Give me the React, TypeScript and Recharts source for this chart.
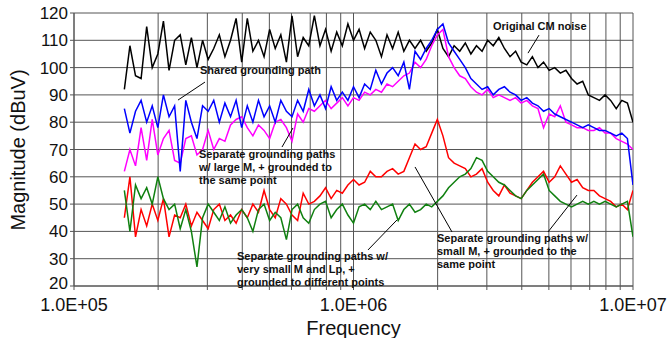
import React from 'react';
import { LineChart, Line, XAxis, YAxis, CartesianGrid, ReferenceLine } from 'recharts';

// frequency points (Hz), log spaced, 0.02 decade apart
const freq = [
  151400, 158500, 166000, 173800, 182000, 190500, 199500, 208900, 218800, 229100,
  239900, 251200, 263000, 275400, 288400, 302000, 316200, 331100, 346700, 363100,
  380200, 398100, 416900, 436500, 457100, 478600, 501200, 524800, 549500, 575400,
  602600, 631000, 660700, 691800, 724400, 758600, 794300, 831800, 871000, 912000,
  955000, 1000000, 1047000, 1096000, 1148000, 1202000, 1259000, 1318000, 1380000, 1445000,
  1514000, 1585000, 1660000, 1738000, 1820000, 1905000, 1995000, 2089000, 2188000, 2291000,
  2399000, 2512000, 2630000, 2754000, 2884000, 3020000, 3162000, 3311000, 3467000, 3631000,
  3802000, 3981000, 4169000, 4365000, 4571000, 4786000, 5012000, 5248000, 5495000, 5754000,
  6026000, 6310000, 6607000, 6918000, 7244000, 7586000, 7943000, 8318000, 8710000, 9120000,
  9550000, 10000000,
];

// Original CM noise
const original = [
  92, 108, 97, 96, 115, 100, 105, 117, 99, 110,
  112, 101, 111, 100, 110, 103, 107, 112, 104, 110,
  118, 102, 118, 106, 110, 104, 114, 107, 112, 102,
  119, 104, 111, 108, 119, 108, 114, 106, 113, 108,
  116, 110, 114, 107, 113, 110, 104, 112, 107, 113,
  106, 110, 107, 110, 106, 109, 114, 107, 104, 108,
  106, 109, 105, 108, 106, 110, 108, 111, 107, 104,
  106, 102, 101, 104, 100, 102, 99, 100, 98, 99,
  96, 94, 95, 90, 89, 88, 90, 88, 85, 88,
  87, 80,
];

// Shared grounding path
const shared = [
  85, 76, 84, 88, 80, 86, 78, 90, 82, 86,
  62, 88, 80, 74, 86, 84, 88, 80, 87, 82,
  88, 78, 86, 80, 88, 82, 86, 80, 88, 84,
  82, 88, 84, 92, 86, 90, 85, 93, 88, 91,
  88, 93, 89, 94, 92, 99, 94, 98, 100, 97,
  102, 92, 106, 103, 107, 110, 114, 116, 109, 106,
  103, 100, 96, 94, 92, 93, 90, 92, 93, 91,
  90, 88, 89, 87, 86, 84, 85, 83, 82, 81,
  80, 79, 78, 79, 78, 77, 77, 76, 75, 76,
  74, 57,
];

// Separate paths, large M, same point
const largeM = [
  62, 70, 64, 78, 66, 81, 68, 74, 77, 66,
  65, 74, 75, 68, 70, 77, 70, 74, 73, 79,
  81, 82, 78, 75, 79, 77, 74, 80, 81, 78,
  73, 83, 80, 85, 84, 86, 88, 85, 87, 89,
  86, 89, 88, 91, 90, 92, 91, 94, 93, 95,
  97, 98, 102, 100, 103, 108, 112, 114, 104, 100,
  97, 96, 93, 91, 90, 92, 89, 90, 89, 88,
  89, 87, 88, 86, 85, 78, 83, 82, 86, 80,
  79, 78, 78, 77, 77, 78, 76, 76, 74, 73,
  72, 70,
];

// Separate paths, small M, same point
const smallM = [
  45, 60, 38, 48, 42, 50, 44, 52, 38, 46,
  45, 50, 42, 47, 44, 41, 48, 50, 44, 46,
  43, 48, 45, 50, 47, 55, 48, 45, 52, 50,
  46, 44, 54, 50, 51, 53, 56, 52, 55, 54,
  57, 59, 57, 58, 62, 60, 60, 62, 63, 61,
  62, 67, 72, 70, 71, 76, 81, 75, 67, 65,
  64, 63, 60, 61, 63, 58, 55, 53, 57, 54,
  53, 52, 55, 58, 60, 62, 58, 60, 64, 61,
  58, 59, 56, 55, 55, 53, 52, 51, 49, 50,
  48, 55,
];

// Separate paths, very small M and Lp, different points
const verySmallM = [
  55, 40, 57, 52, 56, 50, 60, 52, 48, 50,
  41, 48, 40, 27, 45, 50, 47, 44, 49, 43,
  46, 48, 45, 40, 48, 50, 44, 47, 45, 37,
  48, 50, 45, 43, 48, 50, 51, 45, 48, 50,
  46, 43, 49, 50, 48, 51, 48, 49, 50, 44,
  48, 50, 47, 48, 50, 49, 51, 53, 56, 58,
  60, 61, 63, 67, 66, 62, 60, 58, 57, 55,
  53, 52, 55, 57, 59, 61, 55, 53, 51, 50,
  49, 50, 51, 50, 51, 50, 51, 50, 49, 50,
  51, 38,
];

const xTicks = [
  100000, 200000, 300000, 400000, 500000, 600000, 700000, 800000, 900000,
  1000000, 2000000, 3000000, 4000000, 5000000, 6000000, 7000000, 8000000, 9000000,
  10000000,
];
const yTicks = [20, 30, 40, 50, 60, 70, 80, 90, 100, 110, 120];

const data = freq.map((f, i) => ({
  f,
  original: original[i],
  shared: shared[i],
  largeM: largeM[i],
  smallM: smallM[i],
  verySmallM: verySmallM[i],
}));

const FONT = '"Liberation Sans", Arial, sans-serif';

const fmtX = (v: number) => {
  const e = Math.round(Math.log10(v));
  if (Math.abs(Math.log10(v) - e) > 1e-6) return '';
  return '1.0E+' + String(e).padStart(2, '0');
};

// y tick; the bottom one is nudged up a bit so it clears 1.0E+05
const YTick = (props: any) => {
  const { x, y, payload } = props;
  const shift = payload.value === 20 ? -3 : 0;
  return (
    <text x={x} y={y + shift} dy="0.355em" textAnchor="end" fill="#111" fontSize={17} fontFamily={FONT}>
      {payload.value}
    </text>
  );
};

const note: React.CSSProperties = {
  position: 'absolute',
  fontFamily: FONT,
  fontWeight: 'bold',
  fontSize: 11,
  lineHeight: '13px',
  color: '#111',
  whiteSpace: 'nowrap',
};

export default function App() {
  return (
    <div style={{ position: 'absolute', left: 0, top: 0, width: 667, height: 338, background: '#fff' }}>
      <LineChart
        width={667}
        height={338}
        data={data}
        margin={{ top: 13, right: 34, left: 0, bottom: 0 }}
      >
        <CartesianGrid stroke="#555" strokeWidth={1} />
        <XAxis
          dataKey="f"
          type="number"
          scale="log"
          domain={[100000, 10000000]}
          ticks={xTicks}
          interval={0}
          tickFormatter={fmtX}
          height={52}
          stroke="#555"
          tickSize={4}
          tickMargin={8}
          tick={{ fill: '#111', fontSize: 18, fontFamily: FONT }}
          label={{ value: 'Frequency', position: 'insideBottom', offset: 3, fill: '#111', fontSize: 20, fontFamily: FONT }}
          allowDataOverflow
        />
        <YAxis
          type="number"
          domain={[20, 120]}
          ticks={yTicks}
          interval={0}
          width={74}
          stroke="#555"
          tickSize={4}
          tickMargin={2}
          tick={<YTick />}
        />
        <Line dataKey="original" stroke="#000000" strokeWidth={1.5} dot={false} isAnimationActive={false} />
        <Line dataKey="largeM" stroke="#ff00ff" strokeWidth={1.5} dot={false} isAnimationActive={false} />
        <Line dataKey="shared" stroke="#0000ff" strokeWidth={1.5} dot={false} isAnimationActive={false} />
        <Line dataKey="smallM" stroke="#ff0000" strokeWidth={1.5} dot={false} isAnimationActive={false} />
        <Line dataKey="verySmallM" stroke="#108010" strokeWidth={1.5} dot={false} isAnimationActive={false} />
        {/* annotation leader lines */}
        <ReferenceLine segment={[{ x: 235500, y: 88.1 }, { x: 294200, y: 94.7 }]} stroke="#000" strokeWidth={1} />
        <ReferenceLine segment={[{ x: 4610000, y: 111.9 }, { x: 4210000, y: 105.3 }]} stroke="#000" strokeWidth={1} />
        <ReferenceLine segment={[{ x: 554800, y: 70.9 }, { x: 607500, y: 77.9 }]} stroke="#000" strokeWidth={1} />
        <ReferenceLine segment={[{ x: 1127000, y: 33.2 }, { x: 1431000, y: 44.2 }]} stroke="#000" strokeWidth={1} />
        <ReferenceLine segment={[{ x: 2251000, y: 39.8 }, { x: 1660000, y: 63.6 }]} stroke="#000" strokeWidth={1} />
        <ReferenceLine segment={[{ x: 4965000, y: 39.8 }, { x: 6302000, y: 53.3 }]} stroke="#000" strokeWidth={1} />
      </LineChart>
      <div
        style={{
          position: 'absolute',
          left: 18,
          top: 150,
          transform: 'translate(-50%, -50%) rotate(-90deg)',
          fontFamily: FONT,
          fontSize: 20,
          color: '#111',
          whiteSpace: 'nowrap',
        }}
      >
        Magnitude (dBuV)
      </div>
      <div style={{ ...note, left: 200, top: 64 }}>Shared grounding path</div>
      <div style={{ ...note, left: 493, top: 20 }}>Original CM noise</div>
      <div style={{ ...note, left: 199, top: 148 }}>
        Separate grounding paths
        <br />w/ large M, + grounded to
        <br />the same point
      </div>
      <div style={{ ...note, left: 237, top: 250 }}>
        Separate grounding paths w/
        <br />very small M and Lp, +
        <br />grounded to different points
      </div>
      <div style={{ ...note, left: 437, top: 232 }}>
        Separate grounding paths w/
        <br />small M, + grounded to the
        <br />same point
      </div>
    </div>
  );
}
